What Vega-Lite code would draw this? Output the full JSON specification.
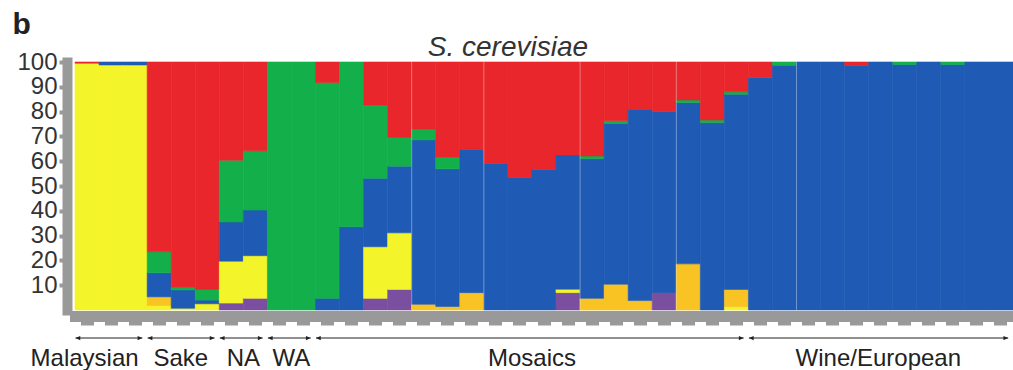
{
  "$schema": "https://vega.github.io/schema/vega-lite/v6.json",
  "width": 938,
  "height": 248,
  "autosize": {"type": "none"},
  "padding": {"left": 75, "top": 62, "right": 0, "bottom": 60},
  "background": "white",
  "config": {
    "view": {"stroke": null},
    "font": "Liberation Sans",
    "axis": {"labelFont": "Liberation Sans", "titleFont": "Liberation Sans"}
  },
  "datasets": {
    "structure": [
      {"sample": "s01", "cluster": "K2", "pct": 99.5}, {"sample": "s01", "cluster": "K6", "pct": 0.5},
      {"sample": "s02", "cluster": "K2", "pct": 98.8}, {"sample": "s02", "cluster": "K4", "pct": 1.2},
      {"sample": "s03", "cluster": "K2", "pct": 98.8}, {"sample": "s03", "cluster": "K4", "pct": 1.2},
      {"sample": "s04", "cluster": "K2", "pct": 1.8}, {"sample": "s04", "cluster": "K3", "pct": 3.5}, {"sample": "s04", "cluster": "K4", "pct": 9.7}, {"sample": "s04", "cluster": "K5", "pct": 8.5}, {"sample": "s04", "cluster": "K6", "pct": 76.5},
      {"sample": "s05", "cluster": "K2", "pct": 0.7}, {"sample": "s05", "cluster": "K4", "pct": 7.4}, {"sample": "s05", "cluster": "K5", "pct": 1.2}, {"sample": "s05", "cluster": "K6", "pct": 90.7},
      {"sample": "s06", "cluster": "K2", "pct": 2.5}, {"sample": "s06", "cluster": "K4", "pct": 1.5}, {"sample": "s06", "cluster": "K5", "pct": 4.3}, {"sample": "s06", "cluster": "K6", "pct": 91.7},
      {"sample": "s07", "cluster": "K1", "pct": 2.8}, {"sample": "s07", "cluster": "K2", "pct": 16.9}, {"sample": "s07", "cluster": "K4", "pct": 15.8}, {"sample": "s07", "cluster": "K5", "pct": 24.9}, {"sample": "s07", "cluster": "K6", "pct": 39.6},
      {"sample": "s08", "cluster": "K1", "pct": 4.7}, {"sample": "s08", "cluster": "K2", "pct": 17.2}, {"sample": "s08", "cluster": "K4", "pct": 18.4}, {"sample": "s08", "cluster": "K5", "pct": 23.9}, {"sample": "s08", "cluster": "K6", "pct": 35.8},
      {"sample": "s09", "cluster": "K5", "pct": 100},
      {"sample": "s10", "cluster": "K5", "pct": 100},
      {"sample": "s11", "cluster": "K4", "pct": 4.7}, {"sample": "s11", "cluster": "K5", "pct": 87.0}, {"sample": "s11", "cluster": "K6", "pct": 8.3},
      {"sample": "s12", "cluster": "K4", "pct": 33.6}, {"sample": "s12", "cluster": "K5", "pct": 66.4},
      {"sample": "s13", "cluster": "K1", "pct": 4.7}, {"sample": "s13", "cluster": "K2", "pct": 20.8}, {"sample": "s13", "cluster": "K4", "pct": 27.6}, {"sample": "s13", "cluster": "K5", "pct": 29.6}, {"sample": "s13", "cluster": "K6", "pct": 17.3},
      {"sample": "s14", "cluster": "K1", "pct": 8.3}, {"sample": "s14", "cluster": "K2", "pct": 22.8}, {"sample": "s14", "cluster": "K4", "pct": 26.9}, {"sample": "s14", "cluster": "K5", "pct": 11.6}, {"sample": "s14", "cluster": "K6", "pct": 30.4},
      {"sample": "s15", "cluster": "K3", "pct": 2.3}, {"sample": "s15", "cluster": "K4", "pct": 66.3}, {"sample": "s15", "cluster": "K5", "pct": 4.4}, {"sample": "s15", "cluster": "K6", "pct": 27.0},
      {"sample": "s16", "cluster": "K3", "pct": 1.4}, {"sample": "s16", "cluster": "K4", "pct": 55.5}, {"sample": "s16", "cluster": "K5", "pct": 4.7}, {"sample": "s16", "cluster": "K6", "pct": 38.4},
      {"sample": "s17", "cluster": "K3", "pct": 7.0}, {"sample": "s17", "cluster": "K4", "pct": 57.8}, {"sample": "s17", "cluster": "K6", "pct": 35.2},
      {"sample": "s18", "cluster": "K4", "pct": 59.2}, {"sample": "s18", "cluster": "K6", "pct": 40.8},
      {"sample": "s19", "cluster": "K4", "pct": 53.4}, {"sample": "s19", "cluster": "K6", "pct": 46.6},
      {"sample": "s20", "cluster": "K4", "pct": 56.7}, {"sample": "s20", "cluster": "K6", "pct": 43.3},
      {"sample": "s21", "cluster": "K1", "pct": 7.0}, {"sample": "s21", "cluster": "K2", "pct": 1.4}, {"sample": "s21", "cluster": "K4", "pct": 54.1}, {"sample": "s21", "cluster": "K6", "pct": 37.5},
      {"sample": "s22", "cluster": "K3", "pct": 4.7}, {"sample": "s22", "cluster": "K4", "pct": 56.3}, {"sample": "s22", "cluster": "K5", "pct": 1.1}, {"sample": "s22", "cluster": "K6", "pct": 37.9},
      {"sample": "s23", "cluster": "K3", "pct": 10.4}, {"sample": "s23", "cluster": "K4", "pct": 64.8}, {"sample": "s23", "cluster": "K5", "pct": 1.1}, {"sample": "s23", "cluster": "K6", "pct": 23.7},
      {"sample": "s24", "cluster": "K3", "pct": 3.8}, {"sample": "s24", "cluster": "K4", "pct": 77.1}, {"sample": "s24", "cluster": "K6", "pct": 19.1},
      {"sample": "s25", "cluster": "K1", "pct": 7.0}, {"sample": "s25", "cluster": "K4", "pct": 73.0}, {"sample": "s25", "cluster": "K6", "pct": 20.0},
      {"sample": "s26", "cluster": "K3", "pct": 18.6}, {"sample": "s26", "cluster": "K4", "pct": 65.0}, {"sample": "s26", "cluster": "K5", "pct": 1.1}, {"sample": "s26", "cluster": "K6", "pct": 15.3},
      {"sample": "s27", "cluster": "K4", "pct": 75.5}, {"sample": "s27", "cluster": "K5", "pct": 1.1}, {"sample": "s27", "cluster": "K6", "pct": 23.4},
      {"sample": "s28", "cluster": "K2", "pct": 1.3}, {"sample": "s28", "cluster": "K3", "pct": 7.0}, {"sample": "s28", "cluster": "K4", "pct": 78.7}, {"sample": "s28", "cluster": "K5", "pct": 1.0}, {"sample": "s28", "cluster": "K6", "pct": 12.0},
      {"sample": "s29", "cluster": "K4", "pct": 93.8}, {"sample": "s29", "cluster": "K6", "pct": 6.2},
      {"sample": "s30", "cluster": "K4", "pct": 98.7}, {"sample": "s30", "cluster": "K5", "pct": 1.3},
      {"sample": "s31", "cluster": "K4", "pct": 100},
      {"sample": "s32", "cluster": "K4", "pct": 100},
      {"sample": "s33", "cluster": "K4", "pct": 98.7}, {"sample": "s33", "cluster": "K6", "pct": 1.3},
      {"sample": "s34", "cluster": "K4", "pct": 100},
      {"sample": "s35", "cluster": "K4", "pct": 99.0}, {"sample": "s35", "cluster": "K5", "pct": 1.0},
      {"sample": "s36", "cluster": "K4", "pct": 100},
      {"sample": "s37", "cluster": "K4", "pct": 99.0}, {"sample": "s37", "cluster": "K5", "pct": 1.0},
      {"sample": "s38", "cluster": "K4", "pct": 100},
      {"sample": "s39", "cluster": "K4", "pct": 100}
    ],
    "groups": [
      {"group": "Malaysian", "from": "s01", "to": "s03", "labelAt": "s01"},
      {"group": "Sake", "from": "s04", "to": "s06", "labelAt": "s05"},
      {"group": "NA", "from": "s07", "to": "s08", "labelAt": "s08"},
      {"group": "WA", "from": "s09", "to": "s10", "labelAt": "s10"},
      {"group": "Mosaics", "from": "s11", "to": "s28", "labelAt": "s20"},
      {"group": "Wine/European", "from": "s29", "to": "s39", "labelAt": "s34"}
    ],
    "separators": [{"at": "s15"}, {"at": "s18"}, {"at": "s22"}, {"at": "s26"}, {"at": "s31"}],
    "heading": [{"title": "S. cerevisiae", "at": "s19"}]
  },
  "layer": [
    {
      "data": {"name": "structure"},
      "mark": {"type": "bar", "strokeWidth": 0.6},
      "encoding": {
        "x": {
          "field": "sample", "type": "nominal",
          "scale": {"domain": ["s01","s02","s03","s04","s05","s06","s07","s08","s09","s10","s11","s12","s13","s14","s15","s16","s17","s18","s19","s20","s21","s22","s23","s24","s25","s26","s27","s28","s29","s30","s31","s32","s33","s34","s35","s36","s37","s38","s39"], "paddingInner": 0, "paddingOuter": 0},
          "axis": {"orient": "bottom", "labels": false, "title": null, "grid": false, "domainColor": "#999999", "domainWidth": 11, "domainCap": "square", "offset": 6, "tickColor": "#999999", "tickWidth": 13, "tickSize": 9}
        },
        "y": {
          "field": "pct", "type": "quantitative", "stack": "zero",
          "scale": {"domain": [0, 100], "nice": false},
          "axis": {"values": [10,20,30,40,50,60,70,80,90,100], "tickCount": 20, "labelOverlap": false, "labelBound": false, "labelFlush": false, "grid": false, "domainColor": "#999999", "domainWidth": 10, "domainCap": "square", "offset": 8, "tickColor": "#999999", "tickWidth": 4, "tickSize": 8, "labelFontSize": 24, "labelColor": "#333333", "labelPadding": 2, "title": "b", "titleAngle": 0, "titleFontSize": 30, "titleFontWeight": "bold", "titleColor": "#222222", "titleAlign": "left", "titleBaseline": "alphabetic", "titleX": -55, "titleY": -29}
        },
        "color": {
          "field": "cluster", "type": "nominal",
          "scale": {"domain": ["K1","K2","K3","K4","K5","K6"], "range": ["#7B4F9F","#F4F42B","#F9C324","#1F5BB4","#13AF4B","#E8262B"]},
          "legend": null
        },
        "stroke": {
          "field": "cluster", "type": "nominal",
          "scale": {"domain": ["K1","K2","K3","K4","K5","K6"], "range": ["#7B4F9F","#F4F42B","#F9C324","#1F5BB4","#13AF4B","#E8262B"]},
          "legend": null
        },
        "order": {"field": "cluster", "type": "ordinal", "sort": "ascending"}
      }
    },
    {
      "data": {"name": "separators"},
      "mark": {"type": "rule", "color": "white", "opacity": 0.35, "strokeWidth": 1},
      "encoding": {
        "x": {"field": "at", "type": "nominal", "bandPosition": 0},
        "y": {"datum": 0, "type": "quantitative"},
        "y2": {"datum": 100}
      }
    },
    {
      "data": {"name": "groups"},
      "mark": {"type": "rule", "color": "#222222", "strokeWidth": 1.2},
      "encoding": {
        "x": {"field": "from", "type": "nominal", "bandPosition": 0.02},
        "x2": {"field": "to", "bandPosition": 0.8},
        "y": {"datum": -11.3, "type": "quantitative"}
      }
    },
    {
      "data": {"name": "groups"},
      "mark": {"type": "point", "shape": "M0,0L1,-0.45L1,0.45Z", "filled": true, "size": 90, "color": "#222222", "opacity": 1},
      "encoding": {
        "x": {"field": "from", "type": "nominal", "bandPosition": 0.02},
        "y": {"datum": -11.3, "type": "quantitative"}
      }
    },
    {
      "data": {"name": "groups"},
      "mark": {"type": "point", "shape": "M0,0L-1,-0.45L-1,0.45Z", "filled": true, "size": 90, "color": "#222222", "opacity": 1},
      "encoding": {
        "x": {"field": "to", "type": "nominal", "bandPosition": 0.8},
        "y": {"datum": -11.3, "type": "quantitative"}
      }
    },
    {
      "data": {"name": "groups"},
      "transform": [{"filter": {"field": "group", "oneOf": ["Malaysian", "Sake", "Wine/European"]}}],
      "mark": {"type": "text", "fontSize": 24, "color": "#222222", "baseline": "alphabetic", "align": "center"},
      "encoding": {
        "x": {"field": "labelAt", "type": "nominal", "bandPosition": 0.4},
        "y": {"datum": -22.6, "type": "quantitative"},
        "text": {"field": "group"}
      }
    },
    {
      "data": {"name": "groups"},
      "transform": [{"filter": {"field": "group", "oneOf": ["NA", "WA", "Mosaics"]}}],
      "mark": {"type": "text", "fontSize": 24, "color": "#222222", "baseline": "alphabetic", "align": "center"},
      "encoding": {
        "x": {"field": "labelAt", "type": "nominal", "bandPosition": 0},
        "y": {"datum": -22.6, "type": "quantitative"},
        "text": {"field": "group"}
      }
    },
    {
      "data": {"name": "heading"},
      "mark": {"type": "text", "fontSize": 28, "fontStyle": "italic", "color": "#333333", "baseline": "alphabetic", "align": "center"},
      "encoding": {
        "x": {"field": "at", "type": "nominal", "bandPosition": 0},
        "y": {"datum": 102.4, "type": "quantitative"},
        "text": {"field": "title"}
      }
    }
  ]
}
